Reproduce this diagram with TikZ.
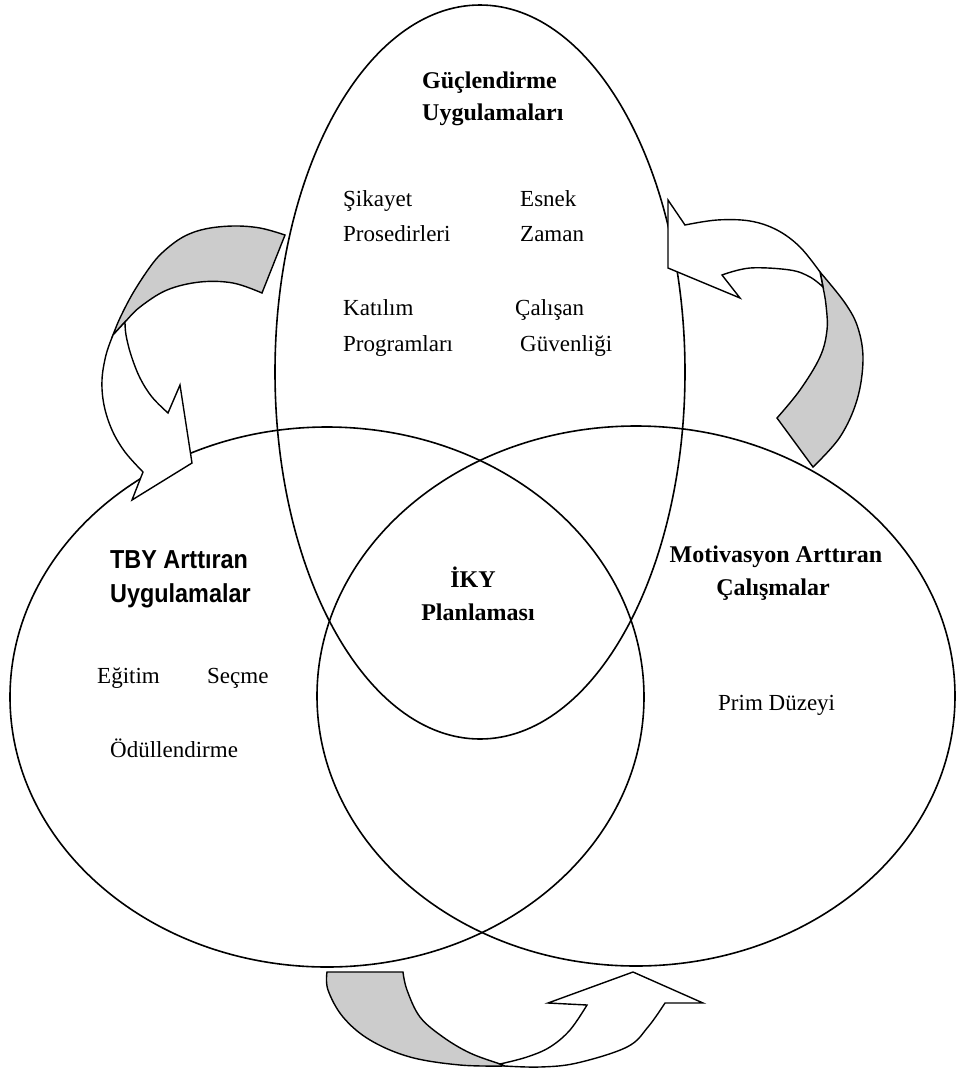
\documentclass[tikz,border=0pt]{standalone}
\usepackage{fontspec}
\setmainfont{Liberation Serif}
\newfontfamily\labelsans{Liberation Sans}
\usetikzlibrary{shapes.geometric}
\definecolor{foldgray}{HTML}{CCCCCC}
\newcommand{\narrowtext}[1]{\scalebox{0.9}[1]{#1}}
\begin{document}
\begin{tikzpicture}[x=1pt,y=-1pt,
  setring/.style={draw, ellipse, line width=1.6pt, inner sep=0pt, outer sep=0pt},
  band/.style={draw, line width=1.4pt, line join=miter},
  foldband/.style={band, fill=foldgray},
  faceband/.style={band, fill=white},
  lbl/.style={inner sep=0pt, anchor=base west, font=\fontsize{23}{28}\selectfont},
  ttl/.style={inner sep=0pt, anchor=base west, font=\fontsize{24}{30}\selectfont\bfseries},
  sttl/.style={inner sep=0pt, anchor=base west, font=\labelsans\fontsize{26}{30}\selectfont\bfseries},
  curve/.style={smooth, tension=0.6}
]
\useasboundingbox[fill=white] (0,0) rectangle (957,1072);

% the three overlapping sets
\node[setring, minimum width=410pt, minimum height=734pt] (guc) at (480,372) {};
\node[setring, minimum width=634pt, minimum height=540pt] (tby) at (327,697) {};
\node[setring, minimum width=638pt, minimum height=540pt] (mot) at (636,696) {};

% curved block arrow, upper left: folded back (grey) and front with head
\path[foldband] (285,235) -- plot[curve] coordinates {(285,235) (260,228) (233,226) (205,229) (183,237) (163,252) (150,267) (133,293) (120,318) (113,335)}
  -- plot[curve] coordinates {(113,335) (125,322) (140,307) (167,290) (200,282) (233,283) (262,293)} -- cycle;
\path[faceband] (113,335) -- plot[curve] coordinates {(113,335) (106,355) (102,380) (104,405) (112,430) (125,452) (143,472)}
  -- (132,500) -- (192,463) -- (180,385) -- (168,413)
  -- plot[curve] coordinates {(168,413) (152,397) (140,378) (131,355) (126,335) (125,322)} -- cycle;

% curved block arrow, upper right
\path[foldband] (777,418) -- (813,467) -- plot[curve] coordinates {(813,467) (840,437) (857,400) (863,360) (858,328) (845,303) (820,272)}
  -- plot[curve] coordinates {(820,272) (823,287) (826,305) (827,330) (820,357) (800,390) (777,418)} -- cycle;
\path[faceband] (820,272) -- plot[curve] coordinates {(820,272) (800,247) (777,230) (750,221) (717,220) (685,225)}
  -- (668,200) -- (668,268) -- (740,298) -- (722,275)
  -- plot[curve] coordinates {(722,275) (750,268) (790,270) (810,277) (823,287)} -- cycle;

% curved block arrow, bottom
\path[foldband] (327,972) -- (403,972) -- plot[curve] coordinates {(403,972) (407,990) (420,1017) (443,1037) (470,1053) (500,1064) (505,1066)}
  -- plot[curve] coordinates {(505,1066) (460,1065) (410,1057) (370,1040) (343,1017) (328,990) (327,972)} -- cycle;
\path[faceband] (505,1066) -- plot[curve] coordinates {(505,1066) (540,1067) (577,1063) (627,1047) (648,1027) (665,1003)}
  -- (703,1003) -- (633,972) -- (548,1003) -- (587,1005)
  -- plot[curve] coordinates {(587,1005) (570,1030) (550,1047) (527,1057) (500,1064)} -- cycle;

% labels of the upper set
\node[ttl] (g1) at (422,88) {Güçlendirme};
\node[ttl] (g2) at (422,120) {Uygulamaları};
\node[lbl] (s1) at (343,206) {Şikayet};
\node[lbl] (s2) at (343,241) {Prosedirleri};
\node[lbl] (e1) at (520,206) {Esnek};
\node[lbl] (e2) at (520,241) {Zaman};
\node[lbl] (k1) at (343,315) {Katılım};
\node[lbl] (k2) at (343,351) {Programları};
\node[lbl] (c1) at (515,315) {Çalışan};
\node[lbl] (c2) at (520,351) {Güvenliği};

% labels of the left set
\node[sttl] (t1) at (110,568) {\narrowtext{TBY Arttıran}};
\node[sttl] (t2) at (110,602) {\narrowtext{Uygulamalar}};
\node[lbl] (eg) at (97,683) {Eğitim};
\node[lbl] (se) at (207,683) {Seçme};
\node[lbl] (od) at (110,757) {Ödüllendirme};

% centre label
\node[ttl, anchor=base] (i1) at (473,587) {İKY};
\node[ttl, anchor=base] (i2) at (478,620) {Planlaması};

% labels of the right set
\node[ttl, anchor=base] (m1) at (776,562) {Motivasyon Arttıran};
\node[ttl, anchor=base] (m2) at (773,595) {Çalışmalar};
\node[lbl] (pd) at (718,710) {Prim Düzeyi};
\end{tikzpicture}
\end{document}
